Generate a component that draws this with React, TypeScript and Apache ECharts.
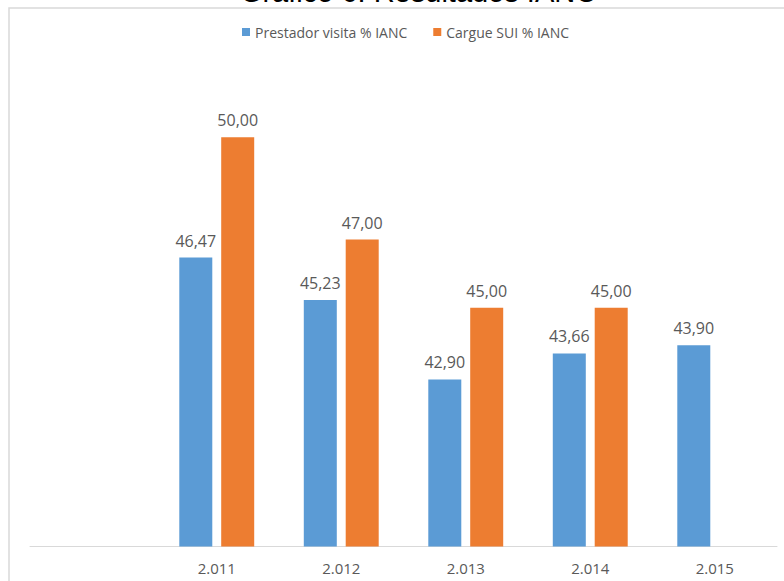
import React, { useEffect, useRef } from "react";
import * as echarts from "echarts";

const categories = ["", "2.011", "2.012", "2.013", "2.014", "2.015"];
const prestadorValues = [null, 46.47, 45.23, 42.9, 43.66, 43.9];
const cargueValues = [null, 50.0, 47.0, 45.0, 45.0, null];
const seriesNames = ["Prestador visita % IANC", "Cargue SUI % IANC"];
const titleText = "Gráfico 6. Resultados IANC";

const fmt = (v: number) => v.toFixed(2).replace(".", ",");

export default function App() {
  const ref = useRef<HTMLDivElement>(null);
  useEffect(() => {
    if (!ref.current) return;
    const chart = echarts.init(ref.current, undefined, { renderer: "svg" });
    const labelCfg = {
      show: true,
      position: "top",
      distance: 9,
      color: "#595959",
      fontFamily: "Open Sans",
      fontSize: 16,
      formatter: (p: any) => (p.value == null ? "" : fmt(p.value)),
    };
    chart.setOption({
      animation: false,
      backgroundColor: "#ffffff",
      graphic: [
        {
          type: "rect",
          shape: { x: 9, y: 8, width: 800, height: 600 },
          style: { fill: "none", stroke: "#d9d9d9", lineWidth: 1.5 },
          silent: true,
        },
        {
          type: "text",
          x: 418,
          y: -8,
          style: {
            text: titleText,
            fill: "#000000",
            font: "29px 'Liberation Sans', Arial, sans-serif",
            align: "center",
            verticalAlign: "middle",
          },
        },
      ],
      legend: {
        left: 237,
        top: 20,
        itemWidth: 8,
        itemHeight: 8,
        itemGap: 26,
        icon: "rect",
        textStyle: { color: "#595959", fontFamily: "Open Sans", fontSize: 14 },
        data: seriesNames,
      },
      grid: { left: 30, right: 7, top: 69, bottom: 34.5, containLabel: false },
      xAxis: {
        type: "category",
        data: categories,
        axisLine: { show: true, lineStyle: { color: "#d9d9d9", width: 1 } },
        axisTick: { show: false },
        axisLabel: {
          color: "#595959",
          fontFamily: "Open Sans",
          fontSize: 15,
          margin: 14,
          interval: 0,
        },
      },
      yAxis: {
        type: "value",
        min: 38,
        max: 52,
        show: false,
        splitLine: { show: false },
      },
      series: [
        {
          name: seriesNames[0],
          type: "bar",
          data: prestadorValues,
          barWidth: 33,
          barGap: "27%",
          itemStyle: { color: "#5b9bd5" },
          label: labelCfg,
        },
        {
          name: seriesNames[1],
          type: "bar",
          data: cargueValues,
          barWidth: 33,
          barGap: "27%",
          itemStyle: { color: "#ed7d31" },
          label: labelCfg,
        },
      ],
    });
    return () => chart.dispose();
  }, []);
  return (
    <div
      ref={ref}
      style={{ position: "fixed", left: 0, top: 0, width: 784, height: 581 }}
    />
  );
}
